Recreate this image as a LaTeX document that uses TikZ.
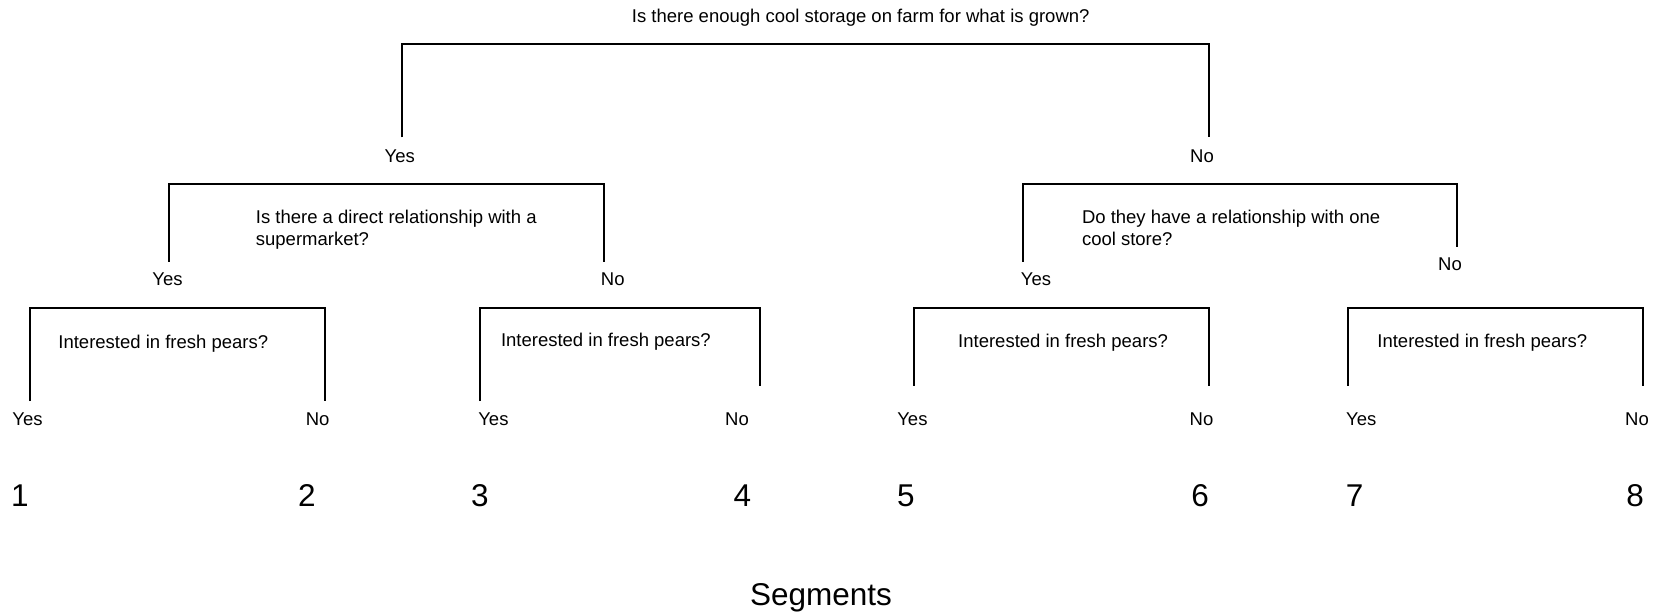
\documentclass[tikz,border=0pt]{standalone}
\usepackage{fontspec}
\setmainfont{Liberation Sans}
\tikzset{
  lbl/.style={inner sep=0pt, anchor=base, font=\fontsize{18.5}{21.7}\selectfont},
  qtxt/.style={inner sep=0pt, anchor=base west, align=left, font=\fontsize{18.5}{21.7}\selectfont},
  num/.style={inner sep=0pt, anchor=base, font=\fontsize{31.5}{36}\selectfont},
  brk/.style={line width=2pt, line join=miter}
}
\begin{document}
\begin{tikzpicture}[x=1pt,y=-1pt]
\useasboundingbox (0,0) rectangle (1654,615);

% title
\node[lbl] (title) at (860.7,22.5) {Is there enough cool storage on farm for what is grown?};

% level 1 bracket
\coordinate (t1a) at (402.3,137.3);
\coordinate (t1b) at (1208.9,137.3);
\coordinate (t1top) at (805,44.3);
\draw[brk] (t1a) |- (t1top) -| (t1b);
\node[lbl] (y1) at (399.7,162.3) {Yes};
\node[lbl] (n1) at (1202,162.3) {No};

% level 2 left
\coordinate (l2a) at (169.4,261.7);
\coordinate (l2b) at (603.5,261.7);
\coordinate (l2top) at (386,183.7);
\draw[brk] (l2a) |- (l2top) -| (l2b);
\node[qtxt] (q2l) at (255.7,245) {Is there a direct relationship with a\\supermarket?};
\node[lbl] (y2l) at (167.5,285) {Yes};
\node[lbl] (n2l) at (612.8,285) {No};

% level 2 right
\coordinate (r2a) at (1022.5,261.7);
\coordinate (r2b) at (1456.6,246.7);
\coordinate (r2top) at (1240,183.7);
\draw[brk] (r2a) |- (r2top) -| (r2b);
\node[qtxt] (q2r) at (1081.8,245) {Do they have a relationship with one\\cool store?};
\node[lbl] (y2r) at (1036,285) {Yes};
\node[lbl] (n2r) at (1450,270) {No};

% level 3 brackets
\coordinate (b1a) at (30.2,401);
\coordinate (b1b) at (324.5,401);
\coordinate (b1top) at (177,308);
\draw[brk] (b1a) |- (b1top) -| (b1b);
\node[qtxt] (q31) at (58.2,348) {Interested in fresh pears?};

\coordinate (b2a) at (479.6,401);
\coordinate (b2b) at (759.7,385.7);
\coordinate (b2top) at (620,308);
\draw[brk] (b2a) |- (b2top) -| (b2b);
\node[qtxt] (q32) at (500.8,346.7) {Interested in fresh pears?};

\coordinate (b3a) at (914,385.7);
\coordinate (b3b) at (1208.9,385.7);
\coordinate (b3top) at (1060,308);
\draw[brk] (b3a) |- (b3top) -| (b3b);
\node[qtxt] (q33) at (958,347.3) {Interested in fresh pears?};

\coordinate (b4a) at (1348,385.7);
\coordinate (b4b) at (1643,385.7);
\coordinate (b4top) at (1495,308);
\draw[brk] (b4a) |- (b4top) -| (b4b);
\node[qtxt] (q34) at (1377.2,347.3) {Interested in fresh pears?};

% level 3 answers
\node[lbl] (y31) at (27.5,425) {Yes};
\node[lbl] (n31) at (317.7,425) {No};
\node[lbl] (y32) at (493.4,425) {Yes};
\node[lbl] (n32) at (737,425) {No};
\node[lbl] (y33) at (912.4,425) {Yes};
\node[lbl] (n33) at (1201.5,425) {No};
\node[lbl] (y34) at (1361.3,425) {Yes};
\node[lbl] (n34) at (1637,425) {No};

% segment numbers
\node[num] (s1) at (19.9,506) {1};
\node[num] (s2) at (306.8,506) {2};
\node[num] (s3) at (480,506) {3};
\node[num] (s4) at (742.4,506) {4};
\node[num] (s5) at (905.8,506) {5};
\node[num] (s6) at (1200,506) {6};
\node[num] (s7) at (1354.7,506) {7};
\node[num] (s8) at (1635,506) {8};

\node[num] (seg) at (821,605) {Segments};
\end{tikzpicture}
\end{document}
